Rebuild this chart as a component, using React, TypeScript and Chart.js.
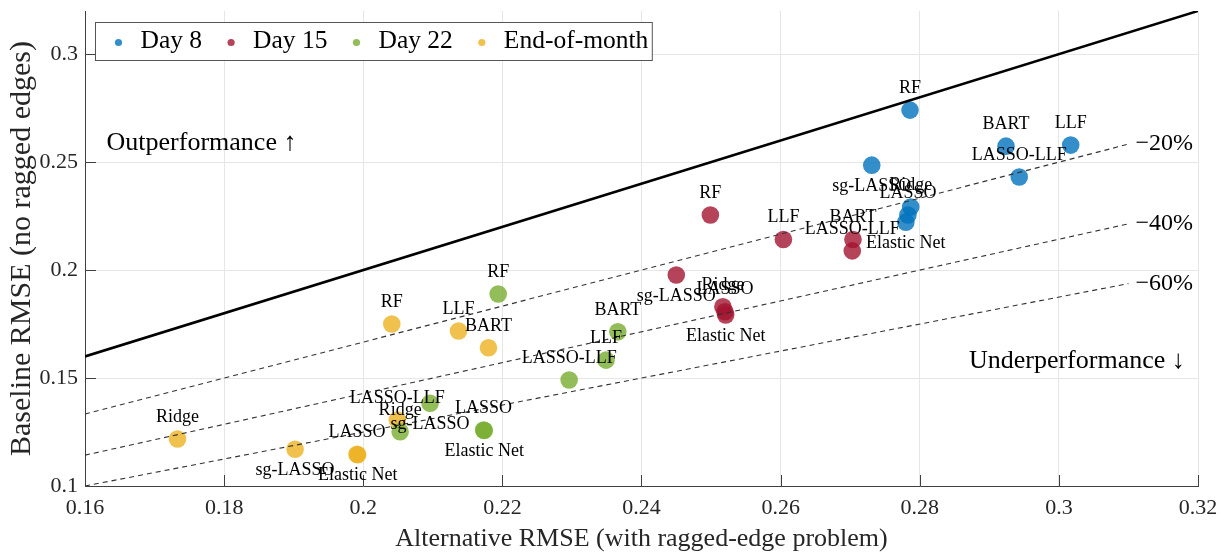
import React, { useEffect, useRef } from "react";
import { Chart, registerables } from "chart.js";

Chart.register(...registerables);

const FONT = "'Liberation Serif', 'Times New Roman', serif";

// Methods (order of values in every series below)
const methods = ["RF", "LLF", "BART", "LASSO-LLF", "sg-LASSO", "Ridge", "LASSO", "Elastic Net"];
const labelsBelow = ["sg-LASSO", "Elastic Net"];

const seriesNames = ["Day 8", "Day 15", "Day 22", "End-of-month"];
const seriesColors = [
  "rgba(0,114,189,0.8)",
  "rgba(162,20,47,0.8)",
  "rgba(119,172,48,0.8)",
  "rgba(237,177,32,0.8)",
];

// Alternative RMSE (x) and Baseline RMSE (y)
const day8X = [0.2786, 0.3017, 0.2924, 0.2943, 0.2731, 0.2787, 0.2783, 0.278];
const day8Y = [0.2741, 0.2579, 0.2574, 0.2431, 0.2486, 0.2292, 0.2255, 0.2222];
const day15X = [0.2499, 0.2604, 0.2704, 0.2703, 0.245, 0.2517, 0.252, 0.2521];
const day15Y = [0.2255, 0.2142, 0.2142, 0.2089, 0.1977, 0.183, 0.1807, 0.1792];
const day22X = [0.2194, 0.2349, 0.2366, 0.2296, 0.2096, 0.2053, 0.2173, 0.2174];
const day22Y = [0.1889, 0.1583, 0.1714, 0.1491, 0.1383, 0.1251, 0.1259, 0.1257];
const eomX = [0.2041, 0.2137, 0.218, 0.2049, 0.1902, 0.1733, 0.1991, 0.1992];
const eomY = [0.175, 0.1718, 0.164, 0.1306, 0.117, 0.1218, 0.1147, 0.1145];

const seriesX = [day8X, day15X, day22X, eomX];
const seriesY = [day8Y, day15Y, day22Y, eomY];

// Axis ticks
const xTicks = [0.16, 0.18, 0.2, 0.22, 0.24, 0.26, 0.28, 0.3, 0.32];
const yTicks = [0.1, 0.15, 0.2, 0.25, 0.3];
const xRange = [0.16, 0.32];
const yRange = [0.1, 0.32];

// Reference lines: identity and loss ratios
const refLineX = [0.16, 0.32];
const guideLineX = [0.16, 0.31];
const lossRatios = [1.2, 1.4, 1.6];
const lossLabels = ["\u221220%", "\u221240%", "\u221260%"];

// Region annotations
const annotations = [
  { text: "Outperformance \u2191", x: 0.1631, y: 0.2588, align: "left" },
  { text: "Underperformance \u2193", x: 0.3181, y: 0.1579, align: "right" },
];

const fmt = (v: number) => String(Number(v.toFixed(2)));

const overlayPlugin = {
  id: "overlay",
  beforeDatasetsDraw(chart: any) {
    const { ctx, chartArea, scales } = chart;
    const x = scales.x;
    const y = scales.y;
    ctx.save();
    ctx.strokeStyle = "#404040";
    ctx.lineWidth = 1;
    ctx.beginPath();
    yTicks.forEach((v) => {
      const py = Math.round(y.getPixelForValue(v)) + 0.5;
      ctx.moveTo(chartArea.left, py);
      ctx.lineTo(chartArea.left + 11, py);
    });
    xTicks.forEach((v) => {
      const px = Math.round(x.getPixelForValue(v)) + 0.5;
      ctx.moveTo(px, chartArea.bottom);
      ctx.lineTo(px, chartArea.bottom - 11);
    });
    ctx.stroke();
    ctx.restore();
  },
  afterDatasetsDraw(chart: any) {
    const { ctx, scales } = chart;
    const x = scales.x;
    const y = scales.y;
    ctx.save();
    ctx.fillStyle = "#000";
    ctx.textBaseline = "middle";
    // point labels
    ctx.font = `18px ${FONT}`;
    ctx.textAlign = "center";
    seriesX.forEach((xs, s) => {
      xs.forEach((v, i) => {
        const px = x.getPixelForValue(v);
        const py = y.getPixelForValue(seriesY[s][i]);
        const below = labelsBelow.includes(methods[i]);
        ctx.fillText(methods[i], px, py + (below ? 21 : -22));
      });
    });
    // loss ratio labels
    ctx.font = `24px ${FONT}`;
    ctx.textAlign = "left";
    lossRatios.forEach((r, i) => {
      const xe = guideLineX[guideLineX.length - 1];
      ctx.fillText(lossLabels[i], x.getPixelForValue(xe) + 7, y.getPixelForValue(xe / r));
    });
    // annotations
    ctx.font = `26px ${FONT}`;
    annotations.forEach((a) => {
      ctx.textAlign = a.align;
      ctx.fillText(a.text, x.getPixelForValue(a.x), y.getPixelForValue(a.y));
    });
    ctx.restore();
  },
  afterDraw(chart: any) {
    const { ctx } = chart;
    ctx.save();
    const left = 95.5;
    const top = 22.5;
    const height = 38;
    ctx.font = `25.5px ${FONT}`;
    let cx = left + 23;
    const items: { dot: number; text: number }[] = [];
    seriesNames.forEach((n) => {
      const w = ctx.measureText(n).width;
      items.push({ dot: cx, text: cx + 22 });
      cx = cx + 22 + w + 29;
    });
    const right = cx - 29 + 4;
    ctx.fillStyle = "#fff";
    ctx.fillRect(left, top, right - left, height);
    ctx.strokeStyle = "#555";
    ctx.lineWidth = 1;
    ctx.strokeRect(left, top, right - left, height);
    const cy = top + height / 2;
    seriesNames.forEach((n, i) => {
      ctx.fillStyle = seriesColors[i];
      ctx.beginPath();
      ctx.arc(items[i].dot, cy + 1, 3.6, 0, Math.PI * 2);
      ctx.fill();
      ctx.fillStyle = "#000";
      ctx.textAlign = "left";
      ctx.textBaseline = "middle";
      ctx.fillText(n, items[i].text, cy);
    });
    ctx.restore();
  },
};

export default function App() {
  const ref = useRef<HTMLCanvasElement | null>(null);

  useEffect(() => {
    if (!ref.current) return;
    const datasets: any[] = [];
    datasets.push({
      type: "line",
      label: "identity",
      data: refLineX.map((v) => ({ x: v, y: v })),
      borderColor: "#000",
      borderWidth: 2.6,
      pointRadius: 0,
      fill: false,
    });
    lossRatios.forEach((r, i) => {
      datasets.push({
        type: "line",
        label: lossLabels[i],
        data: guideLineX.map((v) => ({ x: v, y: v / r })),
        borderColor: "#333",
        borderWidth: 1.1,
        borderDash: [5, 4],
        pointRadius: 0,
        fill: false,
      });
    });
    seriesNames.forEach((n, s) => {
      datasets.push({
        type: "scatter",
        label: n,
        data: seriesX[s].map((v, i) => ({ x: v, y: seriesY[s][i] })),
        backgroundColor: seriesColors[s],
        pointBackgroundColor: seriesColors[s],
        borderWidth: 0,
        pointBorderWidth: 0,
        pointRadius: 8.8,
      });
    });

    const chart = new Chart(ref.current, {
      type: "scatter",
      data: { datasets },
      plugins: [overlayPlugin],
      options: {
        animation: false,
        responsive: false,
        maintainAspectRatio: false,
        devicePixelRatio: 1,
        layout: { padding: { left: 0, right: 28, top: 11, bottom: 0 } },
        plugins: { legend: { display: false }, tooltip: { enabled: false } },
        scales: {
          x: {
            type: "linear",
            min: xRange[0],
            max: xRange[1],
            afterBuildTicks: (scale: any) => {
              scale.ticks = xTicks.map((v) => ({ value: v }));
            },
            afterFit: (scale: any) => {
              scale.height = 72;
              scale.paddingLeft = 0;
              scale.paddingRight = 0;
            },
            ticks: {
              callback: (v: any) => fmt(Number(v)),
              font: { family: FONT, size: 22 },
              color: "#262626",
              padding: 9,
              maxRotation: 0,
              autoSkip: false,
            },
            grid: { color: "#e6e6e6", lineWidth: 1, drawTicks: false },
            border: { display: true, color: "#404040", width: 1 },
            title: {
              display: true,
              text: "Alternative RMSE (with ragged-edge problem)",
              font: { family: FONT, size: 26 },
              color: "#262626",
              padding: { top: 0, bottom: 3 },
            },
          },
          y: {
            type: "linear",
            min: yRange[0],
            max: yRange[1],
            afterBuildTicks: (scale: any) => {
              scale.ticks = yTicks.map((v) => ({ value: v }));
            },
            afterFit: (scale: any) => {
              scale.width = 85;
              scale.paddingTop = 0;
              scale.paddingBottom = 0;
            },
            ticks: {
              callback: (v: any) => fmt(Number(v)),
              font: { family: FONT, size: 22 },
              color: "#262626",
              padding: 7,
              autoSkip: false,
            },
            grid: { color: "#e6e6e6", lineWidth: 1, drawTicks: false },
            border: { display: true, color: "#404040", width: 1 },
            title: {
              display: true,
              text: "Baseline RMSE (no ragged edges)",
              font: { family: FONT, size: 30 },
              color: "#262626",
              padding: { top: 4, bottom: 0 },
            },
          },
        },
      } as any,
    });
    return () => chart.destroy();
  }, []);

  return (
    <div style={{ position: "fixed", left: 0, top: 0, width: 1226, height: 558, background: "#fff" }}>
      <canvas ref={ref} width={1226} height={558} style={{ display: "block" }} />
    </div>
  );
}
